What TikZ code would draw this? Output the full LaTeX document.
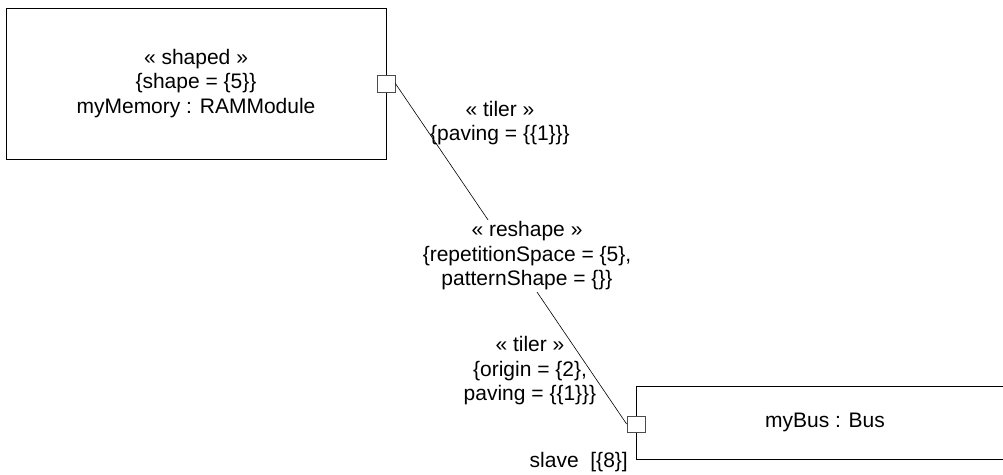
\documentclass[tikz,border=0pt]{standalone}
\usepackage{fontspec}
\setmainfont{Liberation Sans}
\begin{document}
\begin{tikzpicture}[x=1pt, y=-1pt,
  part/.style={draw, line width=1pt, inner sep=0pt},
  port/.style={draw=black!70, fill=white, line width=0.8pt, minimum width=18pt, minimum height=17pt, inner sep=0pt},
  tag/.style={align=center, font=\fontsize{21}{24.5}\selectfont, inner sep=2pt}]
\useasboundingbox (0,0) rectangle (1003,474);
\clip (0,0) rectangle (1003,474);

\node[part, tag, minimum width=380pt, minimum height=151pt] (memory) at (196,83.5) {« shaped »\\ \{shape = \{5\}\}\\ myMemory : RAMModule};
\node[part, tag, minimum width=378pt, minimum height=73pt] (bus) at (825,422.5) {myBus : Bus};

\node[port] (memport) at (386,83.5) {};
\node[port, minimum height=16pt] (busport) at (636,424) {};

\draw[line width=0.6pt] (memport.east) -- (busport.west);

\node[tag] (tilertop) at (500,123) {« tiler »\\ \{paving = \{\{1\}\}\}};
\node[tag, fill=white] (reshape) at (527,256) {« reshape »\\ \{repetitionSpace = \{5\},\\ patternShape = \{\}\}};
\node[tag] (tilerbot) at (530,371) {« tiler »\\ \{origin = \{2\},\\ paving = \{\{1\}\}\}};
\node[tag, anchor=east] (slave) at (630,462) {slave\ \ [\{8\}]};
\end{tikzpicture}
\end{document}
